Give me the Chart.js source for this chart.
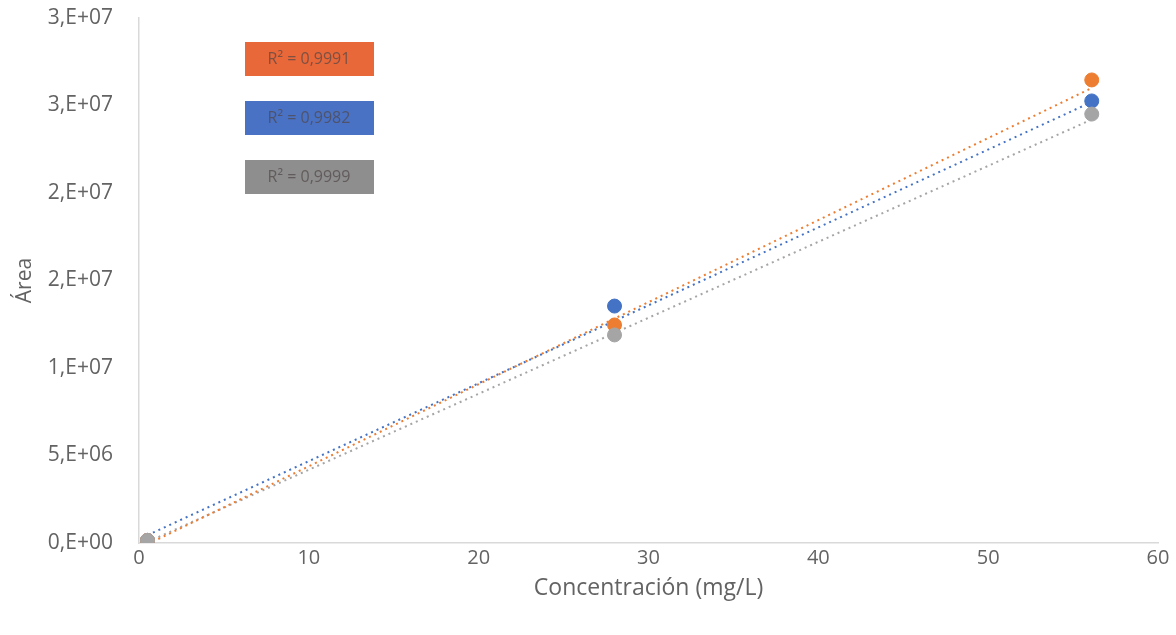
<!DOCTYPE html>
<html>
<head>
<meta charset="utf-8">
<script src="https://cdn.jsdelivr.net/npm/chart.js@4/dist/chart.umd.min.js"></script>
<style>
    html, body { margin: 0; padding: 0; background: #ffffff; }
    #chart { display: block; }
</style>
</head>
<body>
<canvas id="chart" width="1176" height="635"></canvas>
<script>
// Data
const concentrations = [0.5, 28.0, 56.1];
const areaOrange = [0.15e6, 12.46e6, 26.46e6];
const areaBlue = [0.15e6, 13.54e6, 25.26e6];
const areaGrey = [0.15e6, 11.89e6, 24.51e6];

// Trend line end points (x from 0.5 to 56.1)
const trendX = [0.5, 56.1];
const trendOrange = [-0.07e6, 26.0e6];
const trendBlue = [0.45e6, 25.2e6];
const trendGrey = [0.06e6, 24.2e6];

const r2Labels = ['R² = 0,9991', 'R² = 0,9982', 'R² = 0,9999'];

const ORANGE = '#ED7D31';
const BLUE = '#4472C4';
const GREY = '#A5A5A5';
const TEXT = '#636363';
const FONT = '"Open Sans", sans-serif';

const toPoints = (xs, ys) => xs.map((x, i) => ({ x, y: ys[i] }));

// Excel style "0,E+00" number format
const excelSci = (value) => {
    if (value === 0) {
        return '0,E+00';
    }
    let exp = Math.floor(Math.log10(Math.abs(value)));
    let mant = Math.round(value / Math.pow(10, exp));
    if (mant >= 10) {
        mant = 1;
        exp += 1;
    }
    return mant + ',E+' + String(exp).padStart(2, '0');
};

const trendDataset = (ys, color) => ({
    data: toPoints(trendX, ys),
    showLine: true,
    borderColor: color,
    borderWidth: 2,
    borderDash: [2, 4],
    pointRadius: 0,
    order: 2,
});

const pointDataset = (ys, color) => ({
    data: toPoints(concentrations, ys),
    showLine: false,
    backgroundColor: color,
    borderColor: color,
    pointRadius: 7,
    order: 1,
});

// Draw the R² labels as coloured boxes
const r2Boxes = {
    id: 'r2Boxes',
    afterDraw(chart) {
        const ctx = chart.ctx;
        const colors = ['#E8683A', '#4A72C4', '#8E8E8E'];
        ctx.save();
        r2Labels.forEach((label, i) => {
            const x = 245;
            const y = 42 + i * 59;
            ctx.fillStyle = colors[i];
            ctx.fillRect(x, y, 129, 34);
            ctx.fillStyle = 'rgba(80, 70, 70, 0.7)';
            ctx.font = '16px ' + FONT;
            ctx.textAlign = 'center';
            ctx.textBaseline = 'middle';
            ctx.fillText(label, x + 64, y + 17);
        });
        ctx.restore();
    },
};

new Chart(document.getElementById('chart'), {
    type: 'scatter',
    data: {
        datasets: [
            trendDataset(trendOrange, ORANGE),
            trendDataset(trendBlue, BLUE),
            trendDataset(trendGrey, GREY),
            pointDataset(areaGrey, GREY),
            pointDataset(areaOrange, ORANGE),
            pointDataset(areaBlue, BLUE),
        ],
    },
    options: {
        responsive: false,
        animation: false,
        layout: {
            padding: { left: 0, right: 18, top: 18, bottom: 0 },
        },
        plugins: {
            legend: { display: false },
            tooltip: { enabled: false },
        },
        scales: {
            x: {
                type: 'linear',
                min: 0,
                max: 60,
                afterFit: (scale) => { scale.height = 92; },
                ticks: {
                    stepSize: 10,
                    color: TEXT,
                    padding: 3,
                    maxRotation: 0,
                    font: { family: FONT, size: 20 },
                },
                grid: { display: false, drawTicks: false },
                border: { display: true, color: '#D9D9D9', width: 1.5 },
                title: {
                    display: true,
                    text: 'Concentración (mg/L)',
                    color: TEXT,
                    font: { family: FONT, size: 23 },
                    padding: { top: 0, bottom: 33 },
                },
            },
            y: {
                type: 'linear',
                min: 0,
                max: 3e7,
                afterFit: (scale) => {
                    scale.width = 139;
                    scale.paddingTop = 0;
                    scale.paddingBottom = 0;
                },
                ticks: {
                    stepSize: 5e6,
                    color: TEXT,
                    padding: 26,
                    font: { family: FONT, size: 21 },
                    callback: (value) => excelSci(value),
                },
                grid: { display: false, drawTicks: false },
                border: { display: true, color: '#D9D9D9', width: 1.5 },
                title: {
                    display: true,
                    text: 'Área',
                    color: TEXT,
                    font: { family: FONT, size: 21 },
                    padding: { top: 12, bottom: 0 },
                },
            },
        },
    },
    plugins: [r2Boxes],
});
</script>
</body>
</html>
